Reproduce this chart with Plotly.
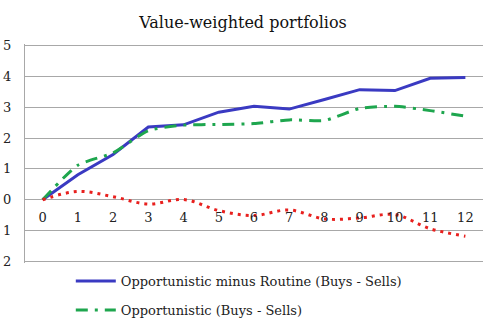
import plotly.graph_objects as go

months = list(range(13))
opp_minus_routine = [0, 0.81, 1.47, 2.36, 2.43, 2.84, 3.03, 2.94, 3.25, 3.57, 3.54, 3.94, 3.96]
opportunistic = [0, 1.12, 1.52, 2.24, 2.42, 2.44, 2.47, 2.59, 2.57, 2.96, 3.03, 2.89, 2.71]
routine = [0, 0.27, 0.1, -0.14, 0.01, -0.35, -0.51, -0.33, -0.62, -0.59, -0.48, -0.94, -1.18]
y_ticks = [5, 4, 3, 2, 1, 0, -1, -2]
y_ticktext = [str(abs(v)) for v in y_ticks]
x_ticktext = [str(m) for m in months]

FONT = "DejaVu Serif"

fig = go.Figure()
fig.add_trace(go.Scatter(
    x=months, y=opp_minus_routine, mode="lines", legendgroup="a",
    name="Opportunistic minus Routine (Buys - Sells)",
    line=dict(color="#3a3ac2", width=3),
))
fig.add_trace(go.Scatter(
    x=months, y=opportunistic, mode="lines", legendgroup="b",
    name="Opportunistic (Buys - Sells)",
    line=dict(color="#1ea64e", width=3, dash="12px,7px,3px,7px", shape="spline", smoothing=0.6),
))
fig.add_trace(go.Scatter(
    x=months, y=routine, mode="lines", legendgroup="c",
    name="Routine (Buys - Sells)", showlegend=False,
    line=dict(color="#e8201e", width=3, dash="3px,5px", shape="spline", smoothing=1.0),
))

fig.update_layout(
    width=486, height=328,
    margin=dict(l=21, r=3, t=44, b=62),
    paper_bgcolor="white", plot_bgcolor="white",
    font=dict(family=FONT, size=13, color="#222222"),
    title=dict(text="Value-weighted portfolios", x=0.5, xanchor="center",
               y=1 - 22 / 328, yanchor="middle",
               font=dict(family=FONT, size=16, color="#111111")),
    showlegend=True,
    legend=dict(orientation="v", x=0.1, xanchor="left", y=-0.014, yanchor="top",
                font=dict(family=FONT, size=13, color="#222222"),
                traceorder="grouped", tracegroupgap=9, itemwidth=40,
                bgcolor="rgba(0,0,0,0)"),
)
fig.update_xaxes(
    range=[-0.5, 12.5], tickmode="array", tickvals=months, ticktext=x_ticktext,
    showgrid=False, zeroline=False, showline=False,
    anchor="free", position=2.05 / 7.1, ticks="", ticklabelstandoff=8,
    tickfont=dict(family=FONT, size=13, color="#222222"),
)
fig.update_yaxes(
    range=[-2.05, 5.05], tickmode="array", tickvals=y_ticks, ticktext=y_ticktext,
    showgrid=True, gridcolor="#a8a8a8", gridwidth=1.3, zeroline=False,
    showline=True, linecolor="#a8a8a8", linewidth=1.3,
    ticks="", ticklabelstandoff=10,
    tickfont=dict(family=FONT, size=13, color="#222222"),
)

fig.write_html("out.html")
